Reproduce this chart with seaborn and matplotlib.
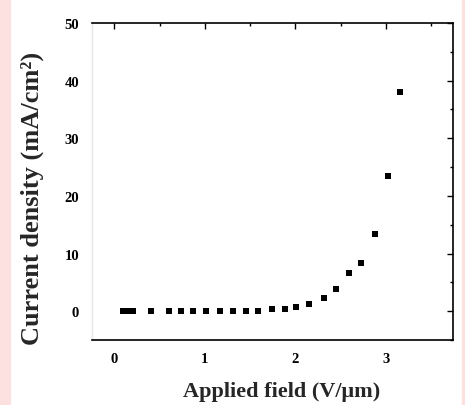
import matplotlib
matplotlib.use("Agg")
import pandas as pd
import seaborn as sns
from matplotlib import pyplot as plt
from matplotlib.patches import Rectangle
from matplotlib.ticker import MultipleLocator

field = [0.10, 0.14, 0.18, 0.21, 0.41, 0.60, 0.74, 0.87, 1.01, 1.17, 1.31, 1.45,
         1.59, 1.74, 1.88, 2.01, 2.15, 2.31, 2.45, 2.59, 2.72, 2.88, 3.02, 3.15]
current = [0.0, 0.0, 0.0, 0.0, 0.0, 0.0, 0.0, 0.0, 0.0, 0.0, 0.0, 0.0,
           0.0, 0.3, 0.4, 0.75, 1.3, 2.3, 3.8, 6.7, 8.3, 13.4, 23.5, 38.0]
xticks = [0, 1, 2, 3]
yticks = [0, 10, 20, 30, 40, 50]

df = pd.DataFrame({"field": field, "current": current})

sns.set_style("white")
plt.rcParams["font.family"] = ["Liberation Serif", "DejaVu Serif"]
plt.rcParams["font.weight"] = "bold"

fig = plt.figure(figsize=(4.65, 4.06), dpi=100)
fig.patches.append(Rectangle((0, 0), 9.5 / 465, 1, transform=fig.transFigure,
                             color="#fde0e0", zorder=0))
fig.patches.append(Rectangle((462 / 465, 0), 3 / 465, 1, transform=fig.transFigure,
                             color="#fde0e0", zorder=0))
ax = fig.add_axes([91.7 / 465, 1 - 341 / 406, 361.3 / 465, 317 / 406])

sns.scatterplot(data=df, x="field", y="current", marker="s", s=24,
                color="black", edgecolor="black", linewidth=0, ax=ax)

ax.set_xlim(-0.25, 3.74)
ax.set_ylim(-5, 50)
ax.set_xticks(xticks)
ax.set_yticks(yticks)
ax.xaxis.set_minor_locator(MultipleLocator(0.5))
ax.yaxis.set_minor_locator(MultipleLocator(5))
ax.tick_params(which="both", direction="in", top=True, right=True,
               width=1, colors="black", labelsize=10.5, pad=9)
ax.tick_params(which="major", length=4)
ax.tick_params(which="minor", length=2.5)
for lab in ax.get_xticklabels() + ax.get_yticklabels():
    lab.set_fontweight("bold")

for side in ["top", "right", "bottom"]:
    ax.spines[side].set_color("black")
    ax.spines[side].set_linewidth(1.2)
ax.spines["left"].set_color("#e6e6e6")
ax.spines["left"].set_linewidth(1.0)

ax.set_xlabel("Applied field (V/μm)", fontsize=16, fontweight="bold", va="center")
ax.set_ylabel("Current density (mA/cm²)", fontsize=19, fontweight="bold", va="center")
ax.xaxis.set_label_coords(0.525, -0.161)
ax.yaxis.set_label_coords(-0.165, 0.45)

plt.savefig("out.png", dpi=100)
plt.close()
